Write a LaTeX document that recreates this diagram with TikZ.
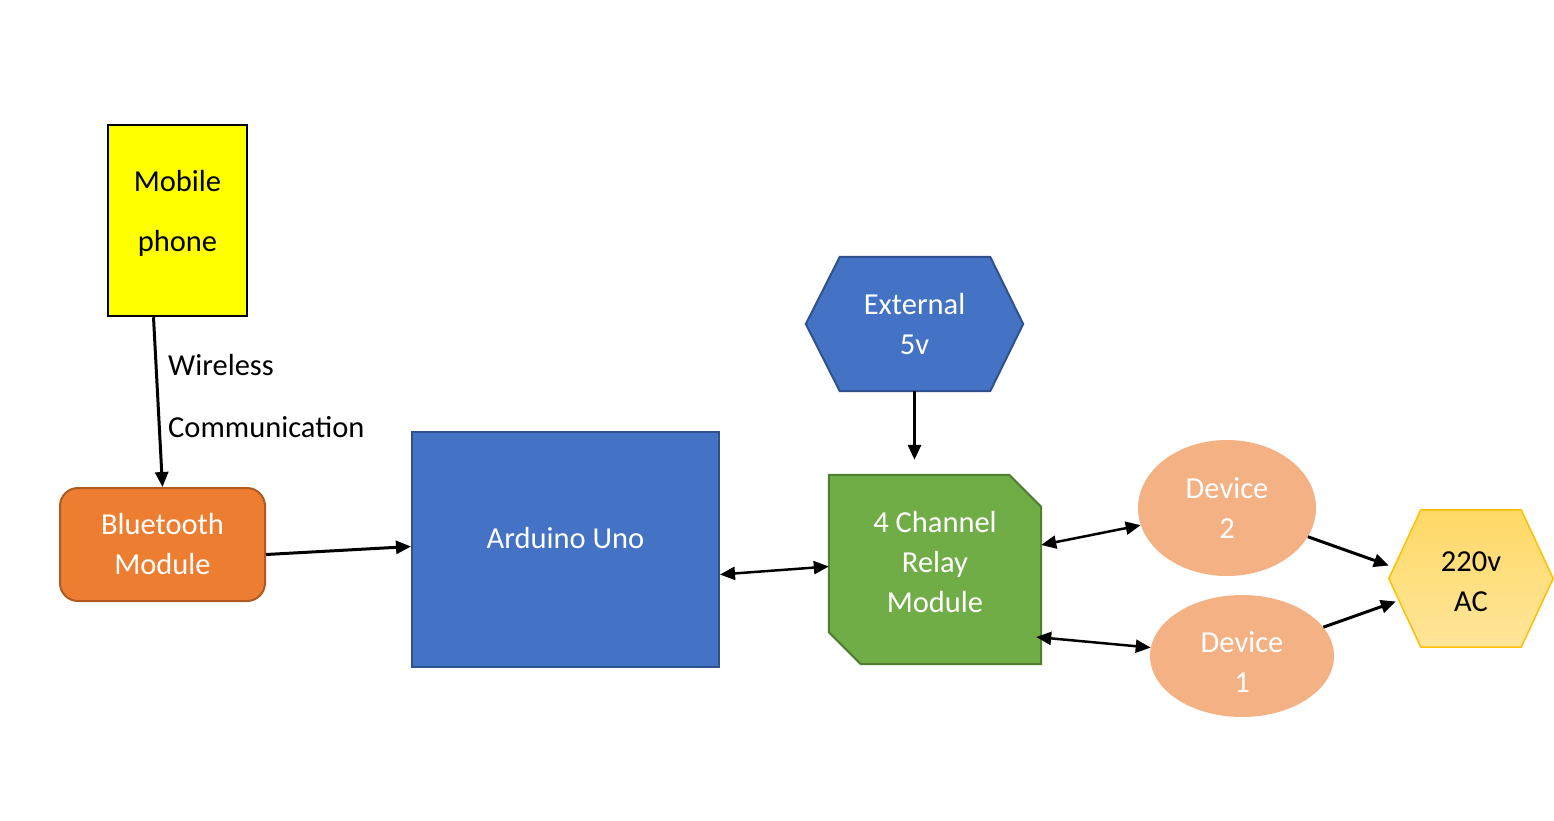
\documentclass[tikz,border=0pt]{standalone}
\usepackage{fontspec}
\setmainfont{Carlito}
\usetikzlibrary{arrows.meta,backgrounds,calc,shapes.geometric}
\definecolor{phoneyellow}{HTML}{FFFF00}
\definecolor{btorange}{HTML}{ED7D31}
\definecolor{btline}{HTML}{AE5A21}
\definecolor{unoblue}{HTML}{4472C4}
\definecolor{unoline}{HTML}{2F528F}
\definecolor{relaygreen}{HTML}{70AD47}
\definecolor{relayline}{HTML}{507E32}
\definecolor{devpeach}{HTML}{F4B183}
\definecolor{acgold}{HTML}{FFD966}
\definecolor{acpale}{HTML}{FFE59A}
\definecolor{acline}{HTML}{FFC000}

\begin{document}
\begin{tikzpicture}[x=1pt,y=-1pt,
	font=\fontsize{30.5}{40}\selectfont,
	conn/.style={line width=3pt,-{Triangle[length=15pt,width=13pt]}},
	both/.style={line width=2.5pt,{Triangle[length=15pt,width=13pt]}-{Triangle[length=15pt,width=13pt]}},
	blockbox/.style={rectangle,inner sep=0pt,align=center,text=white},
	devbox/.style={ellipse,fill=devpeach,text=white,align=center,inner sep=0pt}]
	\useasboundingbox (0,0) rectangle (1554,820);
	% blocks
	\node[blockbox,text=black,draw=black,line width=2.5pt,fill=phoneyellow,minimum width=139pt,minimum height=191pt,text depth=19pt] (phone) at (177.5,220.5) {Mobile\\[20pt]phone};
	\node[blockbox,draw=btline,line width=2pt,fill=btorange,rounded corners=18pt,minimum width=205pt,minimum height=113pt] (bt) at (162.5,544.5) {Bluetooth\\Module};
	\node[blockbox,draw=unoline,line width=2pt,fill=unoblue,minimum width=307pt,minimum height=235pt,text depth=23pt] (uno) at (565.5,549.5) {Arduino Uno};
	\node[blockbox,minimum width=212pt,minimum height=189pt,text depth=15pt] (relay) at (935,569.5) {4 Channel\\Relay\\Module};
	\node[blockbox,minimum width=217pt,minimum height=134pt] (ext) at (914.5,324) {External\\5v};
	\node[blockbox,text=black,minimum width=164pt,minimum height=137pt,text height=66pt] (ac) at (1471,578.5) {220v\\AC};
	\node[devbox,minimum width=178pt,minimum height=136pt] (dev2) at (1227,508) {Device\\2};
	\node[devbox,minimum width=184pt,minimum height=122pt,text height=72pt] (dev1) at (1242,656) {Device\\1};
	\node[anchor=west,align=left,inner sep=0pt] (wl) at (168,396) {Wireless\\[22pt]Communication};
	% outlines behind the text
	\begin{scope}[on background layer]
		\draw[line width=2pt,draw=relayline,fill=relaygreen] (relay.north west) -- ([xshift=-32pt]relay.north east) -- ([yshift=-32pt]relay.north east) -- (relay.south east) -- ([xshift=32pt]relay.south west) -- ([yshift=32pt]relay.south west) -- cycle;
		\draw[line width=2pt,draw=unoline,fill=unoblue] (ext.west) -- ([xshift=34pt]ext.north west) -- ([xshift=-33pt]ext.north east) -- (ext.east) -- ([xshift=-33pt]ext.south east) -- ([xshift=34pt]ext.south west) -- cycle;
		\draw[line width=1.5pt,draw=acline,top color=acgold,bottom color=acpale] (ac.west) -- ([xshift=32pt]ac.north west) -- ([xshift=-32pt]ac.north east) -- (ac.east) -- ([xshift=-32pt]ac.south east) -- ([xshift=32pt]ac.south west) -- cycle;
	\end{scope}
	% connectors
	\draw[conn] ([xshift=-24pt]phone.south) -- (bt.north);
	\draw[conn] ([yshift=-10pt]bt.east) -- ([yshift=3pt]uno.west);
	\draw[both] ([yshift=-25pt]uno.east) -- ([yshift=3pt]relay.west);
	\coordinate (relaytop) at ([yshift=15pt]ext.south |- relay.north);
	\draw[conn] (ext.south) -- (relaytop);
	\draw[both] ([yshift=24.5pt]relay.east) -- (dev2);
	\draw[both] ([xshift=-5pt,yshift=-67.5pt]relay.east) -- (dev1);
	\draw[conn] (dev2) -- ([yshift=13pt]ac.west);
	\draw[conn] (dev1) -- ([xshift=7pt,yshift=-23pt]ac.west);
\end{tikzpicture}
\end{document}
